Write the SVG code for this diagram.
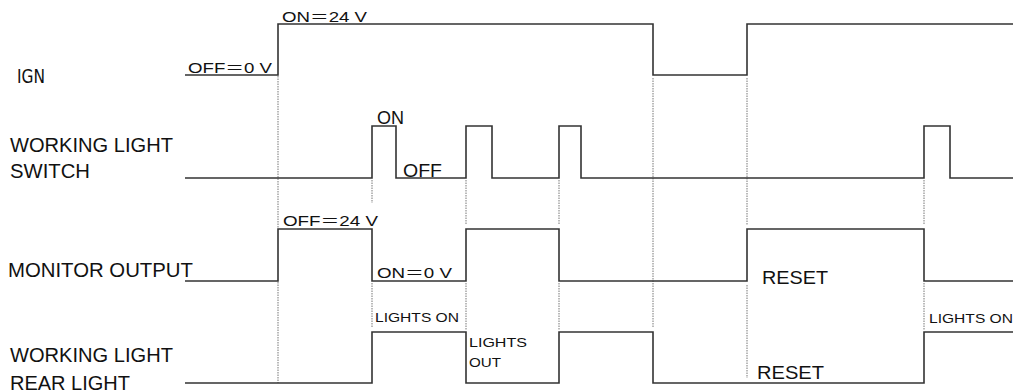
<svg xmlns="http://www.w3.org/2000/svg" width="1013" height="392" viewBox="0 0 1013 392">
<style>
.bg{fill:#ffffff}
.sig{fill:none;stroke:#333;stroke-width:1.6;stroke-linejoin:miter}
.dot{fill:none;stroke:#777;stroke-width:1;stroke-dasharray:1.5 1}
.lbl{font-family:"Liberation Sans",Arial,sans-serif;font-size:20px;fill:#111}
.val{font-family:"Liberation Sans","Noto Sans CJK JP",Arial,sans-serif;font-size:15px;fill:#111}
.big{font-family:"Liberation Sans",Arial,sans-serif;font-size:19px;fill:#111}
.sm{font-family:"Liberation Sans",Arial,sans-serif;font-size:13px;fill:#111}
.rs{font-family:"Liberation Sans",Arial,sans-serif;font-size:18px;fill:#111}
.ign{font-family:"DejaVu Sans Condensed","Liberation Sans Narrow",sans-serif;font-size:19px;fill:#111}
</style>
<rect class="bg" x="0" y="0" width="1013" height="392"/>
<g id="connectors">
  <path class="dot" d="M278,76 V228 M278,282 V383"/>
  <path class="dot" d="M372,180 V203 M372,283 V328"/>
  <path class="dot" d="M466,180 V225 M466,283 V330"/>
  <path class="dot" d="M559,180 V225 M559,283 V330"/>
  <path class="dot" d="M653,78 V328"/>
  <path class="dot" d="M747,78 V225 M747,285 V378"/>
  <path class="dot" d="M924,180 V225 M924,283 V330"/>
</g>
<g id="ign">
  <text class="ign" x="17" y="83" textLength="28" lengthAdjust="spacingAndGlyphs">IGN</text>
  <path class="sig" d="M185,75 H278 V24 H653 V75 H747 V24 H1013"/>
  <text class="val" x="188" y="73" textLength="84" lengthAdjust="spacingAndGlyphs">OFF＝0 V</text>
  <text class="val" x="282" y="22" textLength="85" lengthAdjust="spacingAndGlyphs">ON＝24 V</text>
</g>
<g id="switch">
  <text class="lbl" x="10" y="152" textLength="163" lengthAdjust="spacingAndGlyphs">WORKING LIGHT</text>
  <text class="lbl" x="10" y="178" textLength="80" lengthAdjust="spacingAndGlyphs">SWITCH</text>
  <path class="sig" d="M185,178 H372 V126 H396 V178 H466 V126 H492 V178 H559 V126 H581 V178 H924 V126 H950 V178 H1013"/>
  <text class="big" x="377" y="124" textLength="27" lengthAdjust="spacingAndGlyphs">ON</text>
  <text class="big" x="403" y="177" textLength="39" lengthAdjust="spacingAndGlyphs">OFF</text>
</g>
<g id="monitor">
  <text class="lbl" x="8" y="277" textLength="185" lengthAdjust="spacingAndGlyphs">MONITOR OUTPUT</text>
  <path class="sig" d="M185,281 H278 V229 H372 V281 H466 V229 H559 V281 H747 V229 H924 V281 H1013"/>
  <text class="val" x="283" y="226" textLength="95" lengthAdjust="spacingAndGlyphs">OFF＝24 V</text>
  <text class="val" x="377" y="278" textLength="75" lengthAdjust="spacingAndGlyphs">ON＝0 V</text>
  <text class="rs" x="762" y="284" textLength="66" lengthAdjust="spacingAndGlyphs">RESET</text>
</g>
<g id="rear">
  <text class="lbl" x="10" y="362" textLength="163" lengthAdjust="spacingAndGlyphs">WORKING LIGHT</text>
  <text class="lbl" x="10" y="390" textLength="120" lengthAdjust="spacingAndGlyphs">REAR LIGHT</text>
  <path class="sig" d="M185,383 H372 V332 H466 V383 H559 V332 H653 V383 H924 V332 H1013"/>
  <text class="sm" x="375" y="322" textLength="84" lengthAdjust="spacingAndGlyphs">LIGHTS ON</text>
  <text class="sm" x="469" y="347" textLength="58" lengthAdjust="spacingAndGlyphs">LIGHTS</text>
  <text class="sm" x="469" y="367" textLength="32" lengthAdjust="spacingAndGlyphs">OUT</text>
  <text class="rs" x="757" y="379" textLength="67" lengthAdjust="spacingAndGlyphs">RESET</text>
  <text class="sm" x="929" y="323" textLength="84" lengthAdjust="spacingAndGlyphs">LIGHTS ON</text>
</g>
</svg>
